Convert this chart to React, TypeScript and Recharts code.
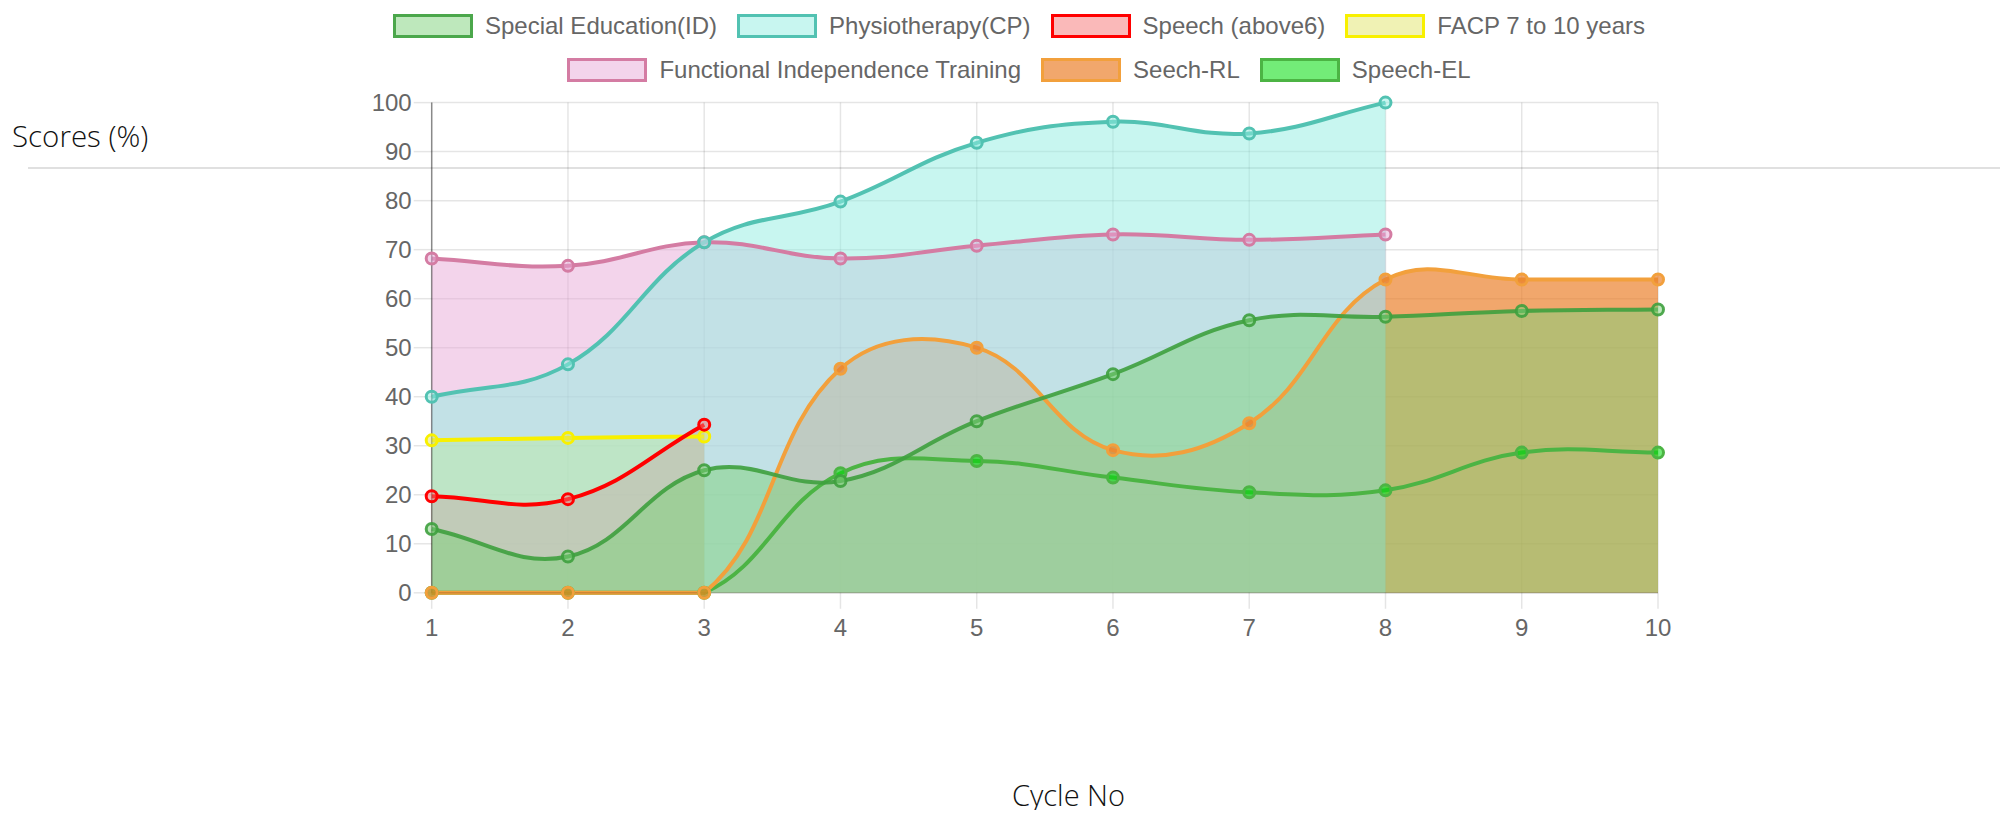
import React from 'react';
import { ComposedChart, Area, Line, XAxis, YAxis, CartesianGrid, Legend } from 'recharts';

// ---------- data ----------
const cycles = [1, 2, 3, 4, 5, 6, 7, 8, 9, 10];
const yTicks = [0, 10, 20, 30, 40, 50, 60, 70, 80, 90, 100];

const specialEducation = [13, 7.4, 25, 22.8, 35, 44.6, 55.6, 56.3, 57.5, 57.8];
const physiotherapy = [40, 46.6, 71.5, 79.8, 91.8, 96.1, 93.7, 100, null, null];
const speechAbove6 = [19.7, 19.1, 34.3, null, null, null, null, null, null, null];
const facp7to10 = [31.1, 31.6, 31.9, null, null, null, null, null, null, null];
const functionalIndependence = [68.2, 66.7, 71.5, 68.2, 70.8, 73.1, 72.0, 73.1, null, null];
const seechRL = [0, 0, 0, 45.7, 50, 29.1, 34.6, 63.9, 63.9, 63.9];
const speechEL = [0, 0, 0, 24.4, 26.9, 23.5, 20.5, 20.9, 28.6, 28.6];

const seriesNames = [
  'Special Education(ID)',
  'Physiotherapy(CP)',
  'Speech (above6)',
  'FACP 7 to 10 years',
  'Functional Independence Training',
  'Seech-RL',
  'Speech-EL',
];

// ---------- styles ----------
type Series = { key: string; name: string; values: (number | null)[]; stroke: string; fill: string; filled: boolean };

const SERIES: Series[] = [
  { key: 's0', name: seriesNames[0], values: specialEducation, stroke: 'rgba(62,160,62,0.9)', fill: 'rgba(125,209,121,0.5)', filled: true },
  { key: 's1', name: seriesNames[1], values: physiotherapy, stroke: '#52c2b2', fill: 'rgba(145,237,225,0.5)', filled: true },
  { key: 's2', name: seriesNames[2], values: speechAbove6, stroke: '#ff0000', fill: 'rgba(245,115,115,0.5)', filled: true },
  { key: 's3', name: seriesNames[3], values: facp7to10, stroke: '#f8f000', fill: 'rgba(225,229,105,0.5)', filled: true },
  { key: 's4', name: seriesNames[4], values: functionalIndependence, stroke: '#d47ca3', fill: 'rgba(231,169,215,0.5)', filled: true },
  { key: 's5', name: seriesNames[5], values: seechRL, stroke: '#f2a03c', fill: 'rgba(235,130,45,0.7)', filled: true },
  { key: 's6', name: seriesNames[6], values: speechEL, stroke: '#4cb444', fill: 'rgba(0,220,10,0.55)', filled: false },
];

const data = cycles.map((c, i) => {
  const row: Record<string, number | null> = { cycle: c };
  SERIES.forEach((s) => {
    row[s.key] = s.values[i];
  });
  return row;
});

// layout (container coords)
const W = 1995;
const H = 700;
const PLOT_LEFT = 423.7;
const PLOT_RIGHT = 1650;
const PLOT_TOP = 94.6;
const PLOT_BOTTOM = 584.8;
const Y_AXIS_W = 80;
const X_AXIS_H = 60;

const FONT = '"Liberation Sans", Arial, Helvetica, sans-serif';

// Chart.js (v2) style spline, tension 0.4 with control points capped to chart area
function chartJsCurve(tension: number, left: number, right: number, top: number, bottom: number) {
  const cap = (v: number, lo: number, hi: number) => Math.max(Math.min(v, hi), lo);
  return (context: any) => {
    let xs: number[] = [];
    let ys: number[] = [];
    let line = NaN;
    return {
      areaStart() {
        line = 0;
      },
      areaEnd() {
        line = NaN;
      },
      lineStart() {
        xs = [];
        ys = [];
      },
      lineEnd() {
        const n = xs.length;
        if (n) {
          if (line) context.lineTo(xs[0], ys[0]);
          else context.moveTo(xs[0], ys[0]);
          if (n === 2) {
            context.lineTo(xs[1], ys[1]);
          } else if (n > 2) {
            const cpPx: number[] = [], cpPy: number[] = [], cpNx: number[] = [], cpNy: number[] = [];
            for (let i = 0; i < n; i++) {
              const pi = i > 0 ? i - 1 : i;
              const ni = i < n - 1 ? i + 1 : i;
              const cx = xs[i], cy = ys[i];
              const d01 = Math.hypot(cx - xs[pi], cy - ys[pi]);
              const d12 = Math.hypot(xs[ni] - cx, ys[ni] - cy);
              let s01 = d01 / (d01 + d12);
              let s12 = d12 / (d01 + d12);
              if (isNaN(s01)) s01 = 0;
              if (isNaN(s12)) s12 = 0;
              const fa = tension * s01;
              const fb = tension * s12;
              const dx = xs[ni] - xs[pi];
              const dy = ys[ni] - ys[pi];
              cpPx[i] = cap(cx - fa * dx, left, right);
              cpPy[i] = cap(cy - fa * dy, top, bottom);
              cpNx[i] = cap(cx + fb * dx, left, right);
              cpNy[i] = cap(cy + fb * dy, top, bottom);
            }
            for (let i = 1; i < n; i++) {
              context.bezierCurveTo(cpNx[i - 1], cpNy[i - 1], cpPx[i], cpPy[i], xs[i], ys[i]);
            }
          }
        }
        if (line || (line !== 0 && n === 1)) context.closePath();
        line = 1 - line;
      },
      point(x: number, y: number) {
        xs.push(+x);
        ys.push(+y);
      },
    };
  };
}

const curve = chartJsCurve(0.4, PLOT_LEFT, PLOT_RIGHT, PLOT_TOP, PLOT_BOTTOM);

const legendRows = [SERIES.slice(0, 4), SERIES.slice(4)];

function LegendContent() {
  return (
    <div style={{ paddingLeft: 27, boxSizing: 'border-box', width: '100%', fontFamily: FONT }}>
      {legendRows.map((row, ri) => (
        <div
          key={ri}
          style={{
            display: 'flex',
            justifyContent: 'center',
            alignItems: 'center',
            height: 24,
            marginTop: ri === 0 ? 5.5 : 20.5,
            gap: 20,
          }}
        >
          {row.map((s) => (
            <div key={s.key} style={{ display: 'flex', alignItems: 'center' }}>
              <div
                style={{
                  width: 80,
                  height: 24,
                  boxSizing: 'border-box',
                  border: `3px solid ${s.stroke}`,
                  background: s.fill,
                  marginRight: 12,
                }}
              />
              <span style={{ fontSize: 24, lineHeight: '24px', color: '#666', whiteSpace: 'nowrap' }}>{s.name}</span>
            </div>
          ))}
        </div>
      ))}
    </div>
  );
}

const drawOrder = [...SERIES].reverse();

export default function App() {
  return (
    <div style={{ position: 'relative', width: W, height: 802 }}>
      {/* separator line behind the chart */}
      <div
        style={{
          position: 'absolute',
          left: 20,
          top: 159,
          width: 1972,
          height: 2,
          background: '#e0e0e0',
        }}
      />
      <div
        style={{
          position: 'absolute',
          left: 4,
          top: 108,
          fontFamily: '"Open Sans", sans-serif',
          fontWeight: 300,
          fontSize: 29.5,
          lineHeight: '40px',
          color: '#111',
          whiteSpace: 'nowrap',
        }}
      >
        Scores (%)
      </div>
      <div
        style={{
          position: 'absolute',
          left: 1004,
          top: 767,
          fontFamily: '"Open Sans", sans-serif',
          fontWeight: 300,
          fontSize: 29,
          lineHeight: '40px',
          color: '#111',
          whiteSpace: 'nowrap',
        }}
      >
        Cycle No
      </div>
      <div style={{ position: 'absolute', left: 0, top: 0 }}>
        <ComposedChart
          width={W}
          height={H}
          data={data}
          margin={{
            top: PLOT_TOP,
            right: W - PLOT_RIGHT,
            bottom: H - PLOT_BOTTOM - X_AXIS_H,
            left: PLOT_LEFT - Y_AXIS_W,
          }}
        >
          <CartesianGrid stroke="rgba(0,0,0,0.1)" strokeWidth={1.5} />
          <XAxis
            dataKey="cycle"
            type="number"
            domain={[1, 10]}
            ticks={cycles}
            interval={0}
            height={X_AXIS_H}
            tickSize={16}
            tickMargin={10}
            tick={{ fill: '#666', fontSize: 24, fontFamily: FONT }}
            tickLine={{ stroke: 'rgba(0,0,0,0.1)', strokeWidth: 1.5 }}
            axisLine={{ stroke: 'rgba(0,0,0,0.15)', strokeWidth: 1.5 }}
          />
          <YAxis
            type="number"
            domain={[0, 100]}
            ticks={yTicks}
            interval={0}
            width={Y_AXIS_W}
            tickSize={18}
            tickMargin={2}
            tick={{ fill: '#666', fontSize: 24, fontFamily: FONT }}
            tickLine={{ stroke: 'rgba(0,0,0,0.1)', strokeWidth: 1.5 }}
            axisLine={{ stroke: 'rgba(0,0,0,0.4)', strokeWidth: 1.5 }}
          />
          <Legend
            verticalAlign="middle"
            align="center"
            layout="horizontal"
            wrapperStyle={{ top: 0, left: 0, width: W, height: 90 }}
            content={() => <LegendContent />}
          />
          {drawOrder
            .filter((s) => s.filled)
            .map((s) => (
              <Area
                key={'a' + s.key}
                dataKey={s.key}
                name={s.name}
                type={curve as any}
                stroke="none"
                fill={s.fill}
                fillOpacity={1}
                dot={false}
                activeDot={false}
                connectNulls={false}
                isAnimationActive={false}
                legendType="none"
              />
            ))}
          {drawOrder.map((s) => (
            <Line
              key={'l' + s.key}
              dataKey={s.key}
              name={s.name}
              type={curve as any}
              stroke={s.stroke}
              strokeWidth={4}
              dot={{ r: 5.5, strokeWidth: 3, stroke: s.stroke, fill: s.fill }}
              activeDot={false}
              connectNulls={false}
              isAnimationActive={false}
            />
          ))}
        </ComposedChart>
      </div>
    </div>
  );
}
